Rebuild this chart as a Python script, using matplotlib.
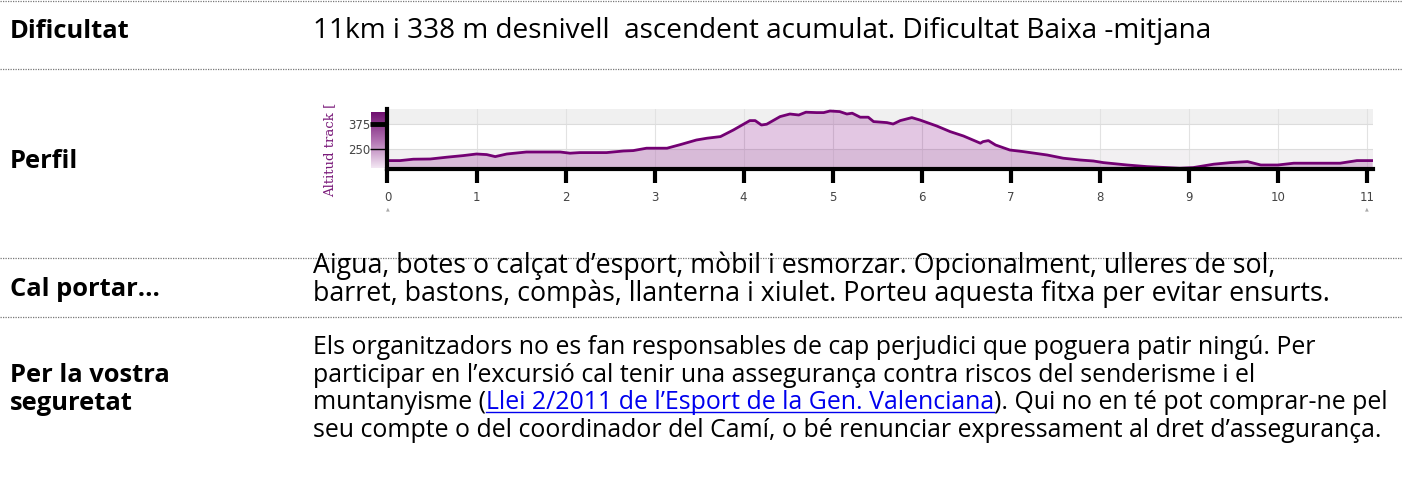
import numpy as np
import matplotlib
matplotlib.use("Agg")
import matplotlib.pyplot as plt
from matplotlib.lines import Line2D
from matplotlib.colors import LinearSegmentedColormap

# ==============================================================================
# DATA
# ==============================================================================
km = [0.0, 0.14, 0.29, 0.48, 0.665, 0.85, 1.00, 1.115, 1.21, 1.34, 1.56, 1.75,
      1.94, 2.05, 2.16, 2.46, 2.65, 2.76, 2.91, 3.14, 3.29, 3.47, 3.59, 3.74,
      3.885, 4.07, 4.13, 4.20, 4.26, 4.41, 4.52, 4.62, 4.70, 4.82, 4.90, 4.97,
      5.08, 5.16, 5.22, 5.31, 5.40, 5.46, 5.61, 5.68, 5.76, 5.89, 5.98, 6.17,
      6.32, 6.47, 6.66, 6.69, 6.75, 6.83, 6.99, 7.14, 7.41, 7.59, 7.78, 7.93,
      8.04, 8.31, 8.53, 8.76, 8.90, 9.05, 9.28, 9.47, 9.66, 9.81, 10.00, 10.18,
      10.70, 10.89, 11.06]
altitud = [193, 193, 200, 201, 210, 218, 226, 223, 213, 226, 236, 236,
           236, 230, 233, 233, 241, 243, 255, 255, 273, 296, 305, 313,
           346, 393, 393, 371, 375, 413, 426, 421, 435, 433, 433, 441,
           438, 426, 430, 410, 410, 388, 383, 376, 393, 408, 396, 366,
           338, 316, 280, 288, 293, 271, 246, 238, 221, 205, 196, 191,
           183, 171, 163, 158, 155, 158, 175, 183, 188, 171, 171, 180,
           180, 193, 193]
x_ticks = list(range(0, 12))
y_ticks = [250, 375]
y_label = "Altitud track ["

row_labels = ["Dificultat", "Perfil", "Cal portar...", "Per la vostra\nseguretat"]
dificultat_text = "11km i 338 m desnivell  ascendent acumulat. Dificultat Baixa -mitjana"
portar_lines = ["Aigua, botes o calçat d\u2019esport, mòbil i esmorzar. Opcionalment, ulleres de sol,",
                "barret, bastons, compàs, llanterna i xiulet. Porteu aquesta fitxa per evitar ensurts."]
seguretat_lines = ["Els organitzadors no es fan responsables de cap perjudici que poguera patir ningú. Per",
                   "participar en l\u2019excursió cal tenir una assegurança contra riscos del senderisme i el",
                   None,
                   "seu compte o del coordinador del Camí, o bé renunciar expressament al dret d\u2019assegurança."]
link_line = ["muntanyisme (", "Llei 2/2011 de l\u2019Esport de la Gen. Valenciana",
             "). Qui no en té pot comprar-ne pel"]

W, H = 1402, 493
fig = plt.figure(figsize=(W / 100, H / 100), dpi=100)
fig.patch.set_facecolor("white")
renderer = fig.canvas.get_renderer()


def fx(x):
    return x / W


def fy(y):
    return 1 - y / H


FONT = "Open Sans"


def fit_size(s, width_px, weight="normal"):
    # font size that makes s about width_px wide
    t = fig.text(0, 0, s, family=FONT, size=20, weight=weight)
    w = t.get_window_extent(renderer).width
    t.remove()
    return 20 * width_px / w


HEAD = fit_size("Per la vostra", 159, "bold")
ROW1 = fit_size(dificultat_text, 900)
PORT = 0.5 * (fit_size(portar_lines[0], 963) + fit_size(portar_lines[1], 1016))
SEG = 0.5 * (fit_size(seguretat_lines[0], 999) + fit_size(seguretat_lines[3], 1070))

# --- dotted separators ---
for yy in [1, 69, 258, 317]:
    fig.add_artist(Line2D([0, 1], [fy(yy), fy(yy)], transform=fig.transFigure,
                          color="#777777", lw=0.9, ls=(0, (1, 1))))

# --- left column labels ---
fig.text(fx(10), fy(38), row_labels[0], family=FONT, weight="bold", size=HEAD, va="baseline")
fig.text(fx(10), fy(168), row_labels[1], family=FONT, weight="bold", size=HEAD, va="baseline")
fig.text(fx(10), fy(296), row_labels[2], family=FONT, weight="bold", size=HEAD, va="baseline")
lab1, lab2 = row_labels[3].split("\n")
fig.text(fx(10), fy(382), lab1, family=FONT, weight="bold", size=HEAD, va="baseline")
fig.text(fx(10), fy(410), lab2, family=FONT, weight="bold", size=HEAD, va="baseline")

# --- right column text ---
fig.text(fx(313), fy(38), dificultat_text, family=FONT, size=ROW1, va="baseline")
for i, s in enumerate(portar_lines):
    fig.text(fx(313), fy(273 + 28 * i), s, family=FONT, size=PORT, va="baseline")
for i, s in enumerate(seguretat_lines):
    if s is not None:
        fig.text(fx(313), fy(354 + 27.7 * i), s, family=FONT, size=SEG, va="baseline")

# link line, built piece by piece
x_cur = 313
y_link = 354 + 27.7 * 2
for j, piece in enumerate(link_line):
    col = "#0000ee" if j == 1 else "black"
    t = fig.text(fx(x_cur), fy(y_link), piece, family=FONT, size=SEG,
                 va="baseline", color=col)
    bb = t.get_window_extent(renderer)
    if j == 1:
        fig.add_artist(Line2D([fx(x_cur), fx(x_cur + bb.width)],
                              [fy(y_link + 3), fy(y_link + 3)],
                              transform=fig.transFigure, color=col, lw=1.0))
    x_cur += bb.width

# ==============================================================================
# ELEVATION PROFILE
# ==============================================================================
ax_left, ax_right, ax_top, ax_bot = 387.5, 1373, 109, 169

# gradient bar beside y axis
cax = fig.add_axes([fx(371), fy(168), fx(387 - 371), (168 - 112) / H])
cmap = LinearSegmentedColormap.from_list("prof", ["#f3e6f3", "#b070b0", "#701070"])
cax.imshow(np.linspace(0, 1, 100).reshape(-1, 1), aspect="auto", cmap=cmap, origin="lower")
cax.axis("off")

ax = fig.add_axes([fx(ax_left), fy(ax_bot), (ax_right - ax_left) / W, (ax_bot - ax_top) / H])
ax.set_xlim(0, 11.07)
ax.set_ylim(151, 451)
ax.axhspan(375, 451, color="#f0f0f0", zorder=0, lw=0)
ax.axhspan(151, 250, color="#f2f0f2", zorder=0, lw=0)
for k in x_ticks:
    ax.axvline(k, color="#e2e2e2", lw=0.8, zorder=0.5)
for v in y_ticks:
    ax.axhline(v, color="#dcdcdc", lw=0.8, zorder=0.5)

ax.fill_between(km, altitud, 151, color="#800080", alpha=0.22, lw=0, zorder=1)
ax.plot(km, altitud, color="#730073", lw=2.0, zorder=2, solid_joinstyle="round")

for s in ["top", "right"]:
    ax.spines[s].set_visible(False)
for s in ["left", "bottom"]:
    ax.spines[s].set_linewidth(3)
    ax.spines[s].set_color("black")
    ax.spines[s].set_zorder(3)

ax.set_xticks(x_ticks)
ax.set_xticklabels([str(k) for k in x_ticks])
ax.tick_params(axis="x", length=10, width=3, color="black", pad=6,
               labelsize=8.5, labelcolor="#444444")
ax.set_yticks(y_ticks)
ax.set_yticklabels([str(v) for v in y_ticks])
ax.tick_params(axis="y", length=12.5, width=1, color="black", pad=0,
               labelsize=8.5, labelcolor="#444444")
ax.yaxis.get_major_ticks()[1].tick1line.set_markeredgewidth(3.5)
for lbl in ax.get_xticklabels() + ax.get_yticklabels():
    lbl.set_family("DejaVu Sans")

fig.text(fx(330), fy(197), y_label, rotation=90, ha="center", va="bottom",
         color="#7a1a7a", family="DejaVu Serif", size=9.5)

# small markers under the ends of the distance axis
for k in [0, 11]:
    fig.text(fx(ax_left + k * 89.0), fy(209), "\u25b2", ha="center", va="center",
             color="#aaaaaa", size=3.5, family="DejaVu Sans")

fig.savefig("out.png", dpi=100, facecolor="white")
